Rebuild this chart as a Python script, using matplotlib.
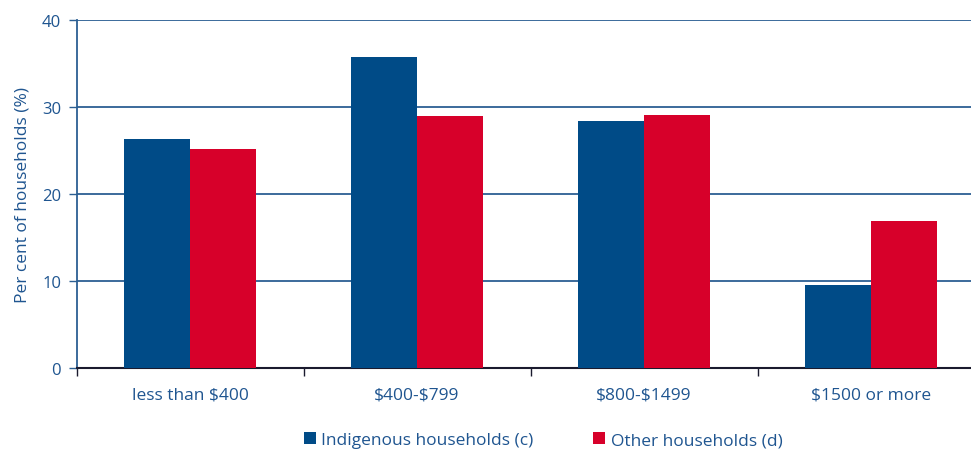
import matplotlib.pyplot as plt
import numpy as np

categories = ["less than $400", "$400-$799", "$800-$1499", "$1500 or more"]
indigenous = [26.3, 35.8, 28.4, 9.5]
other = [25.2, 29.0, 29.1, 16.9]
series_names = ["Indigenous households (c)", "Other households (d)"]

blue = "#004b87"
red = "#d7002a"
text_col = "#1f5590"
line_col = "#2c5f93"

plt.rcParams['font.family'] = ['Open Sans', 'DejaVu Sans']
plt.rcParams['text.parse_math'] = False

fig = plt.figure(figsize=(9.71, 4.52), dpi=100)
# the plot area runs past the right edge of the figure
ax = fig.add_axes([76.5 / 971, 83 / 452, (984.5 - 76.5) / 971, 348 / 452])

x = np.arange(len(categories))
w = 0.29
ax.bar(x - w / 2, indigenous, width=w, color=blue, label=series_names[0], zorder=3)
ax.bar(x + w / 2, other, width=w, color=red, label=series_names[1], zorder=3)

ax.set_ylim(0, 40)
ax.set_xlim(-0.5, 3.5)
ax.set_yticks([0, 10, 20, 30, 40])
ax.yaxis.grid(True, color=line_col, linewidth=1.3, zorder=0)
ax.set_axisbelow(True)

# category labels sit between the boundary ticks
ax.set_xticks(np.arange(-0.5, 4, 1))
ax.set_xticklabels([])
ax.set_xticks(x, minor=True)
ax.set_xticklabels(categories, minor=True, fontsize=12.5, color=text_col)
ax.tick_params(axis='x', which='minor', length=0, pad=13)
ax.tick_params(axis='x', which='major', length=6, color="#1a1a2e", width=1)
ax.tick_params(axis='y', length=6, color=line_col, width=1, labelsize=12,
               labelcolor=text_col, pad=5)

for s in ["top", "right"]:
    ax.spines[s].set_visible(False)
ax.spines["left"].set_color(line_col)
ax.spines["left"].set_linewidth(1.3)
ax.spines["bottom"].set_color("#1a1a2e")
ax.spines["bottom"].set_linewidth(1.5)

ax.set_ylabel("Per cent of households (%)", fontsize=12.5, color=text_col, labelpad=8)

leg = fig.legend(loc="center", bbox_to_anchor=(543 / 971, 1 - 441 / 452), ncol=2,
                 frameon=False, fontsize=12.5, handlelength=0.7, handleheight=0.7,
                 handletextpad=0.3, columnspacing=3.45)
for t in leg.get_texts():
    t.set_color(text_col)

fig.savefig("out.png", dpi=100)
